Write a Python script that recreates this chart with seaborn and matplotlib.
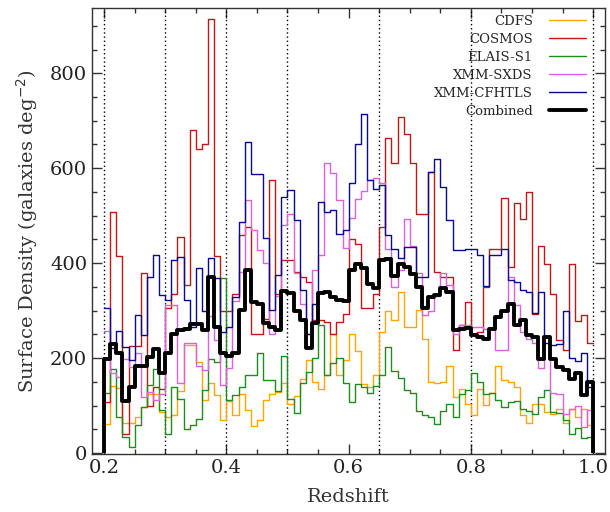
import numpy as np
import pandas as pd
import seaborn as sns
import matplotlib
matplotlib.use('Agg')
import matplotlib.pyplot as plt
from matplotlib.ticker import MultipleLocator

# bins of 0.01 in redshift, 0.2 -> 1.0
z_lo, z_hi, dz = 0.2, 1.0, 0.01

cdfs = [62, 141, 138, 64, 64, 76, 97, 124, 124, 87, 76, 80, 130, 227, 227, 192, 112, 147, 122, 70,
        110, 80, 124, 92, 57, 69, 113, 124, 129, 147, 104, 120, 157, 196, 150, 136, 164, 250, 164, 196, 250,
        215, 145, 140, 164, 255, 300, 280, 340, 265, 265, 302, 241, 150, 148, 150, 183, 118, 136, 104, 80, 136,
        101, 126, 183, 155, 150, 140, 80, 64, 104, 104, 87, 83, 94, 64, 94, 76, 94, 59]
cosmos = [108, 508, 415, 40, 225, 225, 380, 100, 140, 135,
          305, 335, 455, 355, 680, 640, 650, 915, 415, 300,
          300, 336, 460, 477, 251, 251, 283, 575, 336, 406,
          406, 382, 370, 361, 280, 280, 276, 252, 276, 294,
          452, 441, 305, 305, 336, 477, 663, 610, 708, 673,
          610, 503, 503, 592, 382, 371, 371, 217, 269, 318,
          252, 255, 350, 431, 431, 538, 392, 527, 494, 550,
          294, 437, 399, 335, 238, 217, 399, 279, 291, 231]
elais = [126, 178, 76, 34, 13, 60, 97, 143, 178, 90, 41, 140, 115, 50, 60, 73, 134, 199, 192, 368,
         112, 122, 140, 164, 164, 211, 154, 154, 131, 204, 115, 85, 147, 171, 200, 269, 164, 189, 201, 148, 108,
         145, 140, 126, 141, 164, 224, 173, 159, 134, 126, 89, 80, 76, 61, 89, 104, 76, 124, 134, 169, 150,
         124, 127, 113, 97, 108, 110, 94, 89, 83, 118, 133, 87, 85, 69, 40, 52, 31, 34]
sxds = [257, 169, 160, 199, 182, 211, 118, 129, 111, 124, 313, 313, 148, 231, 231, 183, 175, 288, 239, 143, 180, 320,
        382, 533, 469, 427, 400, 250, 330, 480, 503, 380, 315, 250, 385, 418, 610, 589, 534, 432, 496, 536, 552, 575, 580, 568,
        431, 350, 385, 494, 436, 380, 290, 300, 330, 380, 355, 250, 270, 270, 265,
        265, 262, 262, 217, 217, 370, 311, 255, 240, 232, 180, 245, 126, 124, 83, 94, 100, 55, 90]
cfhtls = [306, 222, 257, 224, 197, 290, 248, 370, 417, 333, 322, 406, 414, 322, 265, 389, 300, 410, 368, 255,
          265, 329, 487, 655, 587, 587, 454, 301, 375, 540, 554, 490, 343, 252, 315, 529, 508, 512, 462, 469,
          568, 650, 715, 575, 557, 564, 459, 431, 410, 434, 434, 371, 371, 592, 620, 561, 490, 427, 427, 431,
          431, 417, 352, 417, 417, 431, 364, 361, 343, 340, 295, 340, 231, 227, 230, 300, 200, 195, 210, 140]
combined = [199, 229, 211, 110, 140, 183, 183, 203, 220, 168, 211, 250, 260, 262, 273, 273, 259, 371, 266, 210,
            204, 210, 301, 385, 319, 315, 274, 266, 260, 342, 337, 300, 280, 222, 274, 337, 340, 329, 322, 320, 385,
            399, 389, 357, 347, 406, 408, 373, 398, 392, 378, 350, 305, 328, 333, 347, 340, 259, 262, 264, 248,
            245, 241, 262, 287, 300, 315, 269, 280, 248, 245, 199, 245, 199, 182, 175, 157, 168, 122, 150]

labels = ['CDFS', 'COSMOS', 'ELAIS-S1', 'XMM-SXDS', 'XMM-CFHTLS', 'Combined']
colors = ['#FFA500', '#C01818', '#1E8C1E', '#DA62DA', '#0A0A8C', 'black']
series = [cdfs, cosmos, elais, sxds, cfhtls, combined]
dividers = [0.2, 0.3, 0.4, 0.5, 0.65, 0.8, 1.0]

edges = [round(e, 3) for e in np.arange(z_lo, z_hi + dz / 2, dz)]
centers = [e + dz / 2 for e in edges[:-1]]
for s in series:
    assert len(s) == len(centers), len(s)

sns.set_style('ticks')
plt.rcParams['font.family'] = ['DejaVu Serif']

fig = plt.figure(figsize=(6.1, 5.12), dpi=100)
ax = fig.add_axes([0.151, 0.113, 0.841, 0.871])

for x in dividers:
    ax.axvline(x, color='black', ls=(0, (1, 2)), lw=1.0, zorder=1)

for lab, col, s in zip(labels, colors, series):
    df = pd.DataFrame({'z': centers, 'density': s})
    lw = 2.8 if lab == 'Combined' else 1.0
    sns.histplot(data=df, x='z', weights='density', bins=edges, element='step',
                 fill=False, color=col, lw=lw, label=lab, ax=ax,
                 zorder=4 if lab == 'Combined' else 3)

# combined histogram is closed down to zero at both ends
ax.vlines([edges[0], edges[-1]], 0, [combined[0], combined[-1]], color='black', lw=2.8, zorder=4)

ax.set_xlim(0.1804, 1.0196)
ax.set_ylim(-2, 937)
ax.xaxis.set_major_locator(MultipleLocator(0.2))
ax.xaxis.set_minor_locator(MultipleLocator(0.05))
ax.yaxis.set_major_locator(MultipleLocator(200))
ax.yaxis.set_minor_locator(MultipleLocator(50))
ax.tick_params(which='both', direction='in', top=True, right=True, labelsize=14, color='#333333')
ax.tick_params(which='major', length=7, width=1)
ax.tick_params(which='minor', length=3.5, width=1)
ax.set_xticks([0.2, 0.4, 0.6, 0.8, 1.0])
ax.set_xticklabels(['0.2', '0.4', '0.6', '0.8', '1.0'])
for sp in ax.spines.values():
    sp.set_color('#333333')
    sp.set_linewidth(1.0)

ax.set_xlabel('Redshift', fontsize=14, color='#333333', labelpad=8)
ax.set_ylabel('Surface Density (galaxies deg$^{-2}$)', fontsize=14, color='#333333', labelpad=7)
ax.tick_params(labelcolor='#222222')

leg = ax.legend(loc='upper right', bbox_to_anchor=(0.962, 0.985), frameon=False, markerfirst=False,
                fontsize=9.5, handlelength=2.8, handletextpad=1.2, labelspacing=0.38,
                borderaxespad=0, borderpad=0)

fig.savefig('out.png', dpi=100)
